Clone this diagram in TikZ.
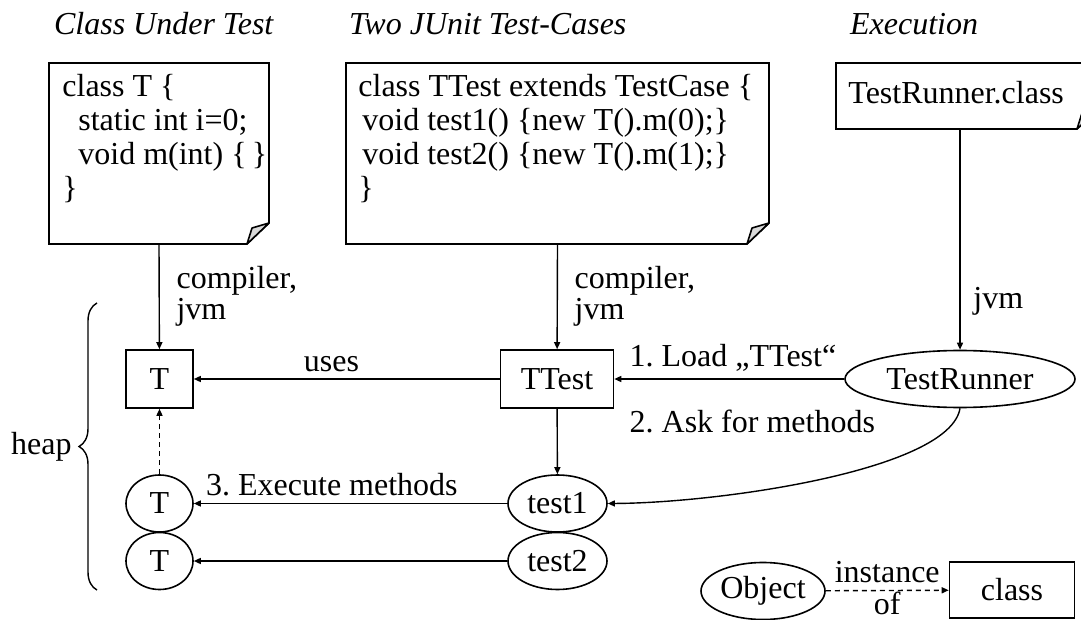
\documentclass[tikz,border=0pt]{standalone}
\usepackage{fontspec}
\setmainfont{Liberation Serif}
\usetikzlibrary{shapes.geometric}
\usetikzlibrary{arrows.meta}
\usetikzlibrary{decorations.pathreplacing}

% outline of a source file with a turned-down corner
\newcommand{\dogear}[1]{%
  \draw[line width=0.8pt] (#1.north west) -- (#1.north east)
    -- ([yshift=10.5pt]#1.south east) -- ([xshift=-11pt]#1.south east)
    -- (#1.south west) -- cycle;
  \filldraw[fill=gray!30, line width=0.8pt, line join=round]
    ([xshift=-11pt]#1.south east) -- ([xshift=-8.5pt,yshift=8pt]#1.south east)
    -- ([yshift=10.5pt]#1.south east) -- cycle;}

\begin{document}
\frenchspacing
\begin{tikzpicture}[x=0.5pt, y=-0.5pt,
  every node/.style={font=\fontsize{16}{17}\selectfont},
  title/.style={font=\fontsize{16}{17}\selectfont\itshape, anchor=base west},
  frame/.style={anchor=north west, inner sep=0pt, outer sep=0pt},
  code/.style={anchor=north west, align=left, inner sep=0pt},
  lbl/.style={align=left, font=\fontsize{16}{15.5}\selectfont},
  cls/.style={draw, line width=0.8pt, rectangle, minimum height=29pt},
  obj/.style={draw, line width=0.8pt, ellipse, minimum height=28.5pt, inner sep=0pt},
  conn/.style={-{Triangle[length=3.5pt,width=3pt]}, line width=0.7pt}]
\useasboundingbox (0,0) rectangle (1081,620);

% column titles
\node[title] (cuttitle) at (47,35) {Class Under Test};
\node[title] (tctitle) at (342,35) {Two JUnit Test-Cases};
\node[title] (extitle) at (843,35) {Execution};

% source files
\node[frame, minimum width=110pt, minimum height=90.5pt] (cutfile) at (49,63) {};
\dogear{cutfile}
\node[code] (cutcode) at ([xshift=6.5pt,yshift=-5.5pt]cutfile.north west)
  {class T \{\\ \hspace*{8pt}static int i=0;\\ \hspace*{8pt}void m(int) \{\,\}\\ \}};

\node[frame, minimum width=211.5pt, minimum height=90.5pt] (tcfile) at (346,63) {};
\dogear{tcfile}
\node[code] (tccode) at ([xshift=6pt,yshift=-5.5pt]tcfile.north west)
  {class TTest extends TestCase \{\\ \hspace*{2pt}void test1() \{new T().m(0);\}\\
   \hspace*{2pt}void test2() \{new T().m(1);\}\\ \}};

\node[frame, minimum width=131.5pt, minimum height=33pt] (exfile) at (836,63) {};
\dogear{exfile}
\node[code] (excode) at ([xshift=6pt,yshift=-9pt]exfile.north west) {TestRunner.class};

% objects on the heap
\node[cls, minimum width=33.5pt] (tcls) at (159.5,379) {T};
\node[cls, minimum width=56.5pt] (ttcls) at (557,379) {TTest};
\node[obj, minimum width=115pt] (runner) at (960,379) {TestRunner};
\node[obj, minimum width=49.5pt] (test1) at (557.5,503.5) {test1};
\node[obj, minimum width=49.5pt] (test2) at (557.5,561) {test2};
\node[obj, minimum width=33.5pt] (tobj1) at (159.5,503.5) {T};
\node[obj, minimum width=33.5pt] (tobj2) at (159.5,561) {T};

\draw[conn] (cutfile.south) -- (tcls) node[lbl, midway, right=5pt] {compiler,\\jvm};
\draw[conn] (tcfile.south) -- (ttcls) node[lbl, midway, right=5pt] {compiler,\\jvm};
\draw[conn] (runner.north |- exfile.south) -- (runner) node[pos=0.78, right=3pt] {jvm};

\draw[conn] (ttcls) -- (tcls) node[pos=0.55, above] {uses};
\draw[conn] (runner) -- (ttcls)
  node[pos=1, above right, xshift=4pt] {1. Load „TTest“}
  node[pos=1, below right, xshift=4pt, yshift=-12pt] {2. Ask for methods};
\draw[conn] (runner.south) .. controls (950,470) and (720,503) .. (test1.east);
\draw[conn] (ttcls) -- (test1);
\draw[conn] (test1) -- (tobj1) node[pos=1, above right, xshift=2.5pt] {3. Execute methods};
\draw[conn] (test2) -- (tobj2);
\draw[conn, dash pattern=on 2.5pt off 2pt] (tobj1) -- (tcls);

% heap brace
\coordinate (heaptop) at (97,303);
\coordinate (heapbot) at (97,590);
\draw[line width=0.7pt, decorate, decoration={brace, amplitude=9pt}] (heapbot) -- (heaptop)
  node[midway, left=9pt] {heap};

% legend
\node[obj, minimum width=62pt] (objkey) at (763,591) {Object};
\node[cls, minimum width=62.5pt, minimum height=28pt] (clskey) at (1012,590) {class};
\draw[conn, dash pattern=on 2.5pt off 2pt] (objkey) -- (clskey)
  node[midway, above] {instance} node[midway, below, inner sep=0.5pt] {of};
\end{tikzpicture}
\end{document}
